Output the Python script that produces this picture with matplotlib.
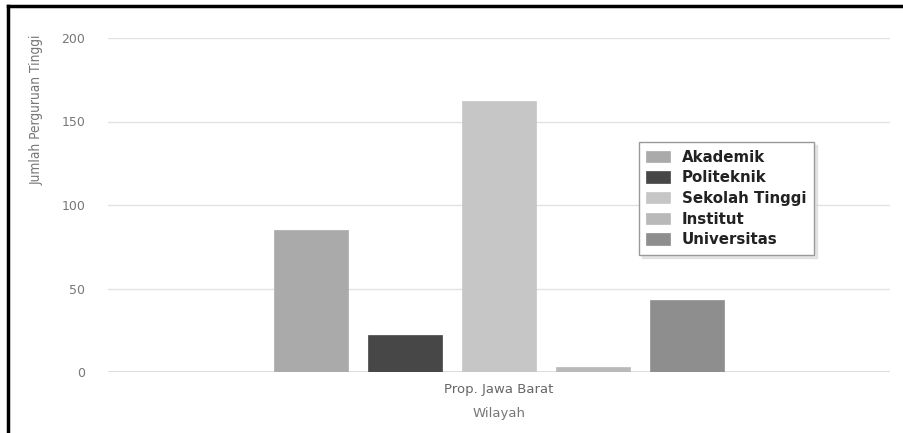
import matplotlib
matplotlib.use("Agg")
import matplotlib.pyplot as plt
from matplotlib.lines import Line2D

categories = ["Prop. Jawa Barat"]
series_names = ["Akademik", "Politeknik", "Sekolah Tinggi", "Institut", "Universitas"]
series_values = [85, 22, 162, 3, 43]
series_colors = ["#aaaaaa", "#474747", "#c6c6c6", "#b9b9b9", "#8e8e8e"]
y_ticks = [0, 50, 100, 150, 200]

W, H = 904, 433
fig = plt.figure(figsize=(W / 100, H / 100), dpi=100)
ax = fig.add_axes([108 / W, 1 - 372 / H, (890 - 108) / W, (372 - 38) / H])

step = 0.12
width = 0.095
for i, (name, val, col) in enumerate(zip(series_names, series_values, series_colors)):
    ax.bar(0 + (i - 2) * step, val, width=width, color=col, label=name, zorder=3,
           edgecolor=col, linewidth=0.5)

ax.set_xlim(-0.5, 0.5)
ax.set_ylim(0, 200)
ax.set_yticks(y_ticks)
ax.set_yticklabels([str(t) for t in y_ticks], color="#777777", fontsize=9)
ax.set_xticks([0])
ax.set_xticklabels(categories, color="#666666", fontsize=9.5)
ax.tick_params(axis="both", length=0)
ax.tick_params(axis="y", pad=16.5)
ax.tick_params(axis="x", pad=8)
ax.grid(axis="y", color="#e2e2e2", linewidth=1, zorder=0)
ax.axhline(0, color="#d8d8d8", linewidth=1.2, zorder=2)
for s in ax.spines.values():
    s.set_visible(False)

ax.set_xlabel("Wilayah", color="#777777", fontsize=9.5, labelpad=8)
fig.text(37 / W, 1 - 110 / H, "Jumlah Perguruan Tinggi", rotation=90, ha="center", va="center",
         color="#777777", fontsize=9.8, fontstretch="condensed")

leg = ax.legend(loc="upper left", bbox_to_anchor=(639 / W, 1 - 142 / H),
                bbox_transform=fig.transFigure, borderaxespad=0,
                prop={"weight": "bold", "size": 10.8}, frameon=True, fancybox=False,
                shadow={"ox": 2, "oy": -2, "color": "#cfcfcf"}, handlelength=1.6,
                handleheight=0.8, labelspacing=0.38, handletextpad=0.75, borderpad=0.5)
leg.get_frame().set_edgecolor("#999999")
leg.get_frame().set_linewidth(1.0)
for t in leg.get_texts():
    t.set_color("#222222")

# black border lines (left and top)
fig.add_artist(Line2D([8 / W, 8 / W], [0, 1 - 6 / H], transform=fig.transFigure,
                      color="black", linewidth=2.5))
fig.add_artist(Line2D([8 / W, 1], [1 - 6 / H, 1 - 6 / H], transform=fig.transFigure,
                      color="black", linewidth=2.5))

fig.savefig("out.png", dpi=100)
